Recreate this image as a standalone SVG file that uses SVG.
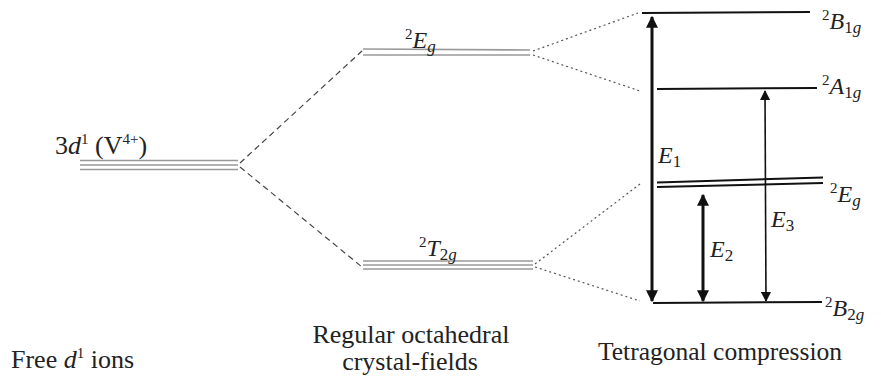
<svg xmlns="http://www.w3.org/2000/svg" width="881" height="387" viewBox="0 0 881 387">
<style>
text{font-family:"Liberation Serif","Times New Roman",serif;font-size:24px;fill:#222}
.cap{font-size:26px}
.it{font-style:italic}
.sup{font-size:15px}
.sub{font-size:17px}
.lvl{stroke:#999;stroke-width:1.6;fill:none}
.blk{stroke:#111;stroke-width:2;fill:none}
.dash{stroke:#444;stroke-width:1.2;stroke-dasharray:6 4;fill:none}
.dot{stroke:#555;stroke-width:1.2;stroke-dasharray:2 3;fill:none}
.arr{stroke:#111;fill:none}
</style>
<defs>
<marker id="ah" viewBox="0 0 10 10" refX="9" refY="5" markerWidth="4" markerHeight="4" orient="auto-start-reverse">
<path d="M0,0 L10,5 L0,10 z" fill="#111"/>
</marker>
<marker id="ah2" viewBox="0 0 10 10" refX="9" refY="5" markerWidth="6.5" markerHeight="6.5" orient="auto-start-reverse">
<path d="M0,0 L10,5 L0,10 z" fill="#111"/>
</marker>
</defs>
<rect width="881" height="387" fill="#fff"/>
<g id="free-ion">
<line class="lvl" x1="80" y1="160.5" x2="238" y2="160.5"/>
<line class="lvl" x1="80" y1="165" x2="238" y2="165"/>
<line class="lvl" x1="80" y1="169.5" x2="238" y2="169.5"/>
<text class="cap" x="55" y="154">3<tspan class="it">d</tspan><tspan class="sup" dy="-10">1</tspan><tspan dy="10"> (V</tspan><tspan class="sup" dy="-10">4+</tspan><tspan dy="10">)</tspan></text>
</g>
<g id="oh-eg">
<line class="lvl" x1="363" y1="49" x2="530" y2="50"/>
<line class="lvl" x1="363" y1="55" x2="530" y2="55"/>
<text x="405" y="48"><tspan class="sup" dy="-9">2</tspan><tspan class="it" dy="9">E</tspan><tspan class="it sub" dy="4">g</tspan></text>
</g>
<g id="oh-t2g">
<line class="lvl" x1="363" y1="261" x2="533" y2="261"/>
<line class="lvl" x1="363" y1="265" x2="533" y2="265"/>
<line class="lvl" x1="363" y1="269" x2="533" y2="269"/>
<text x="419" y="256"><tspan class="sup" dy="-9">2</tspan><tspan class="it" dy="9">T</tspan><tspan class="sub" dy="4">2</tspan><tspan class="it sub">g</tspan></text>
</g>
<g id="b1g">
<line class="blk" x1="642" y1="13" x2="810" y2="12"/>
<text x="822" y="29"><tspan class="sup" dy="-9">2</tspan><tspan class="it" dy="9">B</tspan><tspan class="sub" dy="4">1</tspan><tspan class="it sub">g</tspan></text>
</g>
<g id="a1g">
<line class="blk" x1="657" y1="89" x2="817" y2="88"/>
<text x="822" y="94"><tspan class="sup" dy="-9">2</tspan><tspan class="it" dy="9">A</tspan><tspan class="sub" dy="4">1</tspan><tspan class="it sub">g</tspan></text>
</g>
<g id="eg">
<line class="blk" x1="657" y1="182.5" x2="823" y2="177.5"/>
<line class="blk" x1="657" y1="187" x2="823" y2="183"/>
<text x="830" y="202"><tspan class="sup" dy="-9">2</tspan><tspan class="it" dy="9">E</tspan><tspan class="it sub" dy="4">g</tspan></text>
</g>
<g id="b2g">
<line class="blk" x1="653" y1="303" x2="822" y2="302"/>
<text x="825" y="316"><tspan class="sup" dy="-9">2</tspan><tspan class="it" dy="9">B</tspan><tspan class="sub" dy="4">2</tspan><tspan class="it sub">g</tspan></text>
</g>
<g id="connectors">
<line class="dash" x1="240" y1="163" x2="362" y2="51"/>
<line class="dash" x1="240" y1="167" x2="362" y2="267"/>
<line class="dot" x1="533" y1="51" x2="638" y2="13"/>
<line class="dot" x1="533" y1="55" x2="640" y2="91"/>
<line class="dot" x1="535" y1="264" x2="640" y2="184"/>
<line class="dot" x1="535" y1="267" x2="640" y2="301"/>
<line class="arr" stroke-width="3" x1="652" y1="17" x2="652" y2="301" marker-start="url(#ah)" marker-end="url(#ah)"/>
<line class="arr" stroke-width="3" x1="703" y1="195" x2="703" y2="301" marker-start="url(#ah)" marker-end="url(#ah)"/>
<line class="arr" stroke-width="1.6" x1="765" y1="91" x2="766" y2="301" marker-start="url(#ah2)" marker-end="url(#ah2)"/>
<text class="it" x="658" y="163">E<tspan class="sub" font-style="normal" dy="4">1</tspan></text>
<text class="it" x="710" y="257">E<tspan class="sub" font-style="normal" dy="4">2</tspan></text>
<text class="it" x="771" y="227">E<tspan class="sub" font-style="normal" dy="4">3</tspan></text>
</g>
<g id="captions">
<text class="cap" x="11" y="368">Free <tspan class="it">d</tspan><tspan class="sup" dy="-10">1</tspan><tspan dy="10"> ions</tspan></text>
<text class="cap" x="411" y="343" text-anchor="middle">Regular octahedral</text>
<text class="cap" x="410" y="370" text-anchor="middle">crystal-fields</text>
<text class="cap" x="598" y="360" textLength="244" lengthAdjust="spacingAndGlyphs">Tetragonal compression</text>
</g>
</svg>
